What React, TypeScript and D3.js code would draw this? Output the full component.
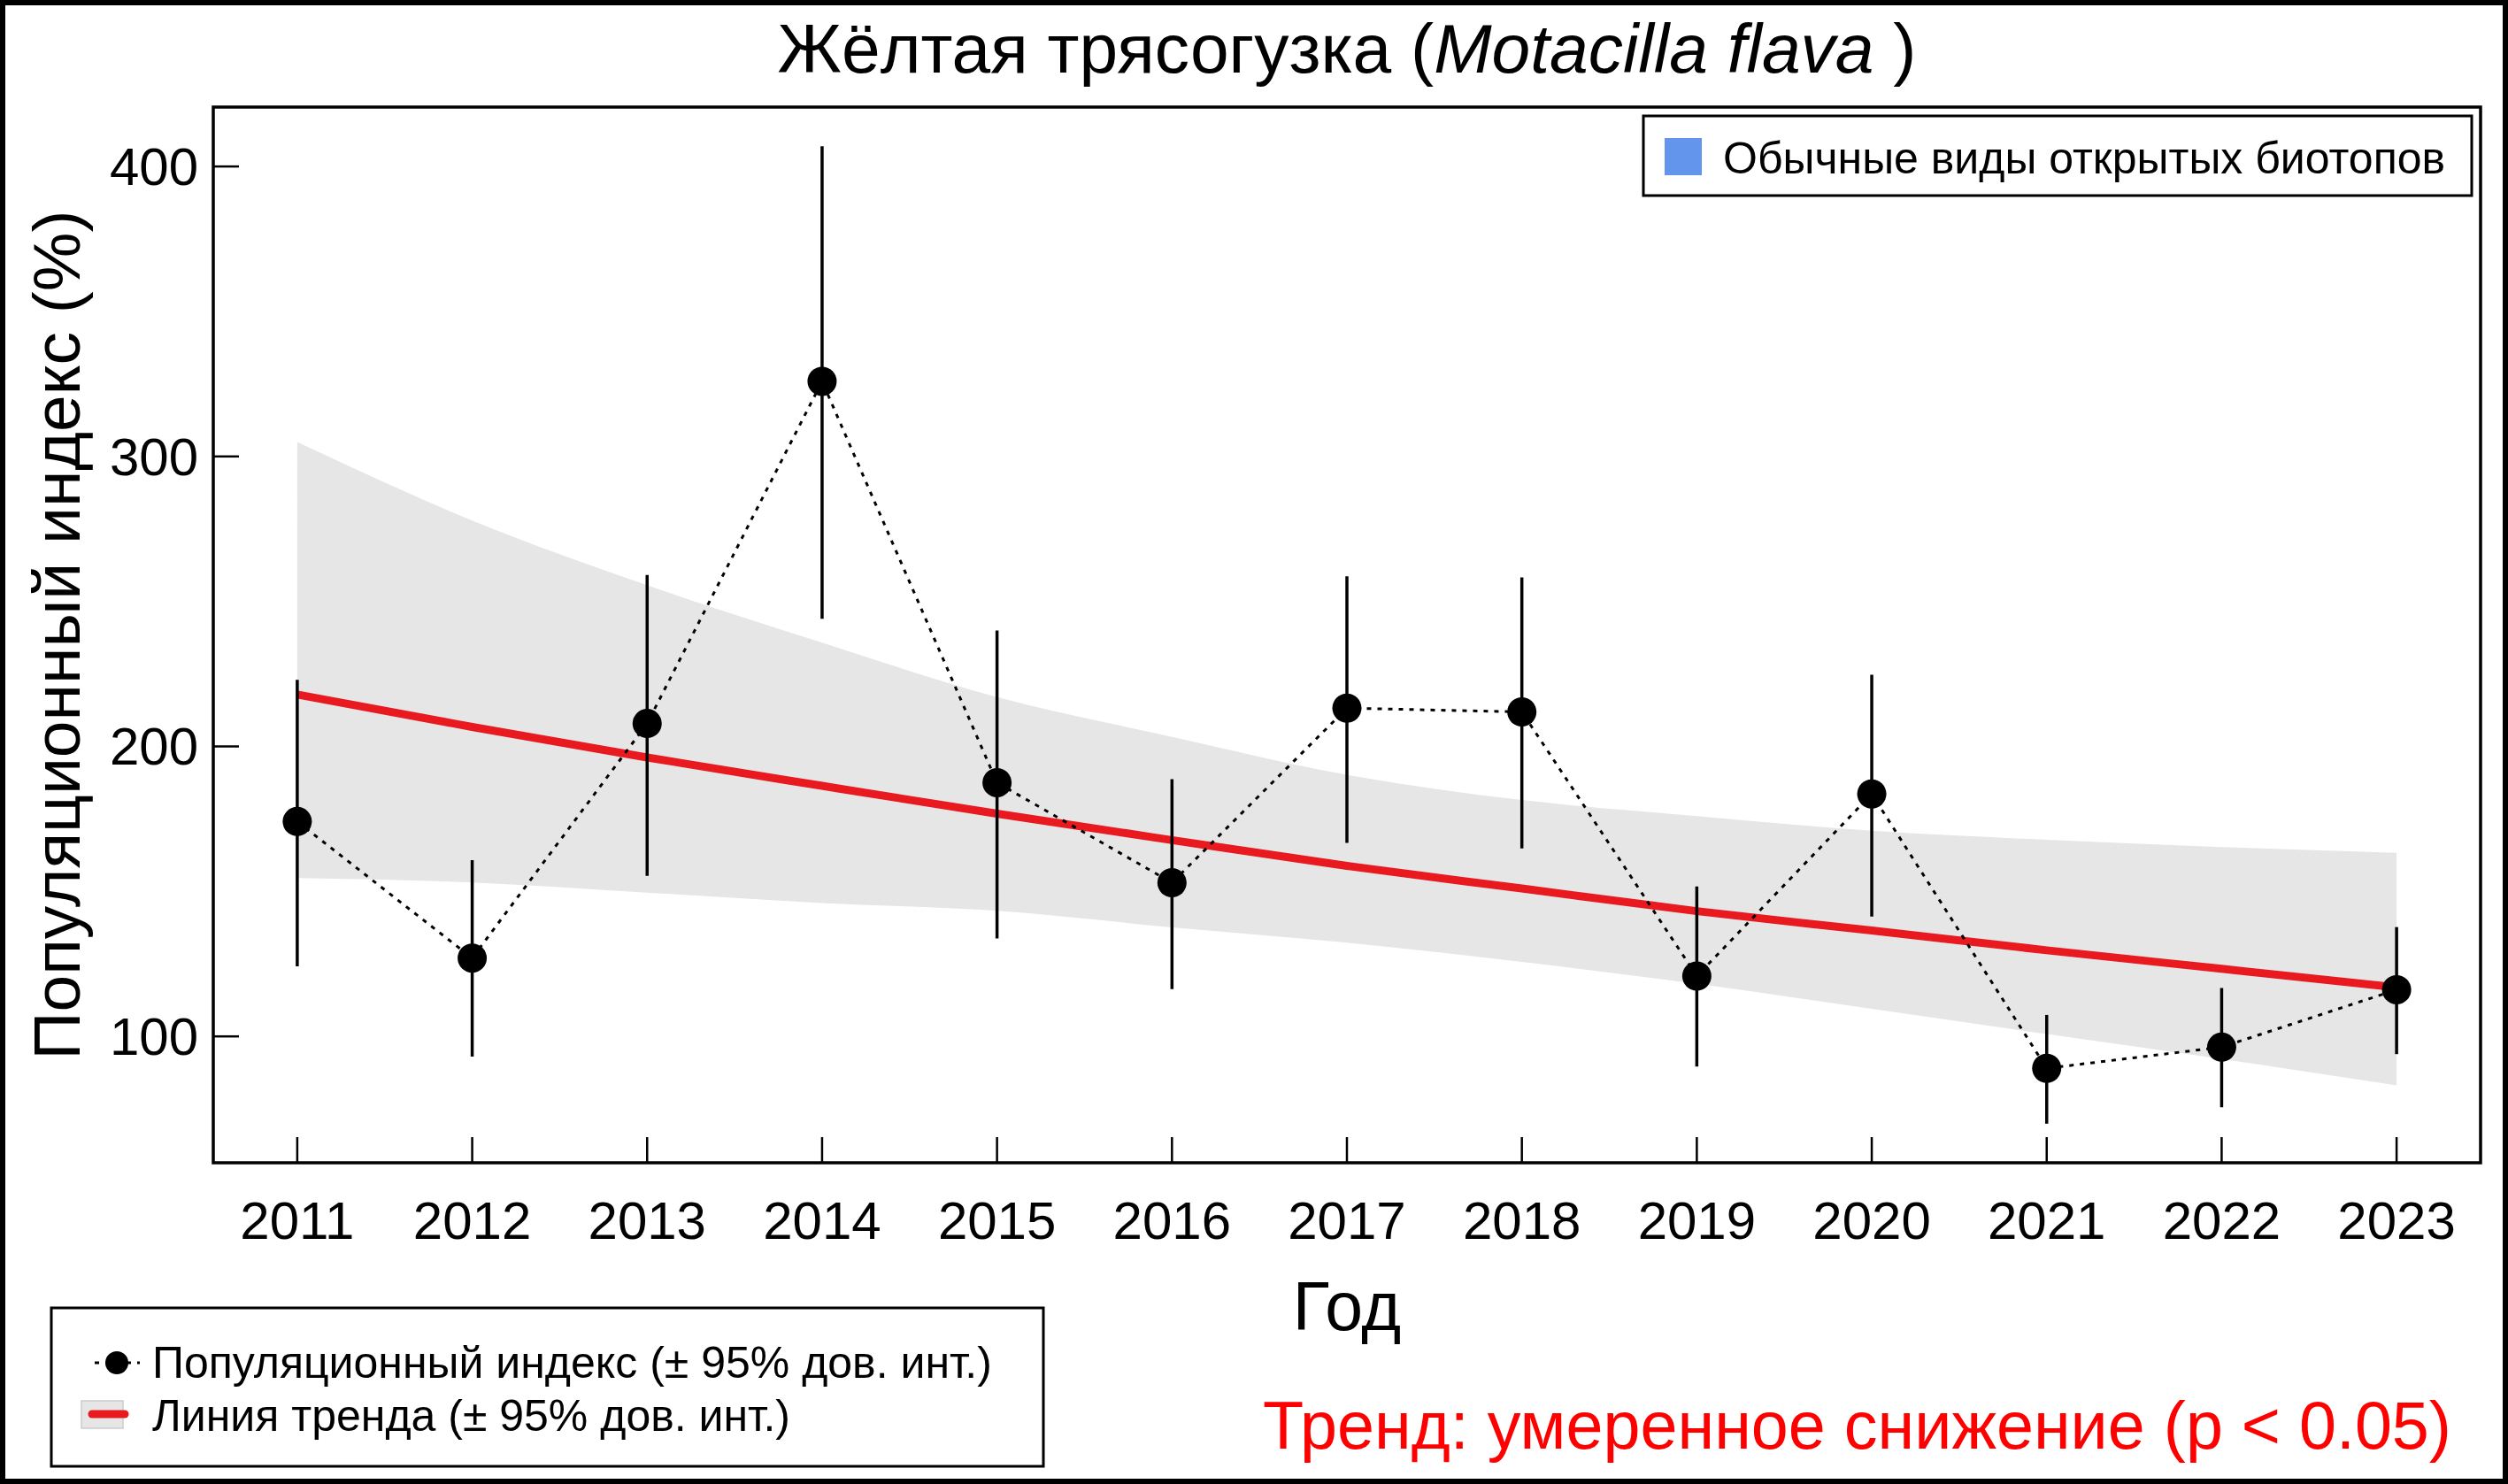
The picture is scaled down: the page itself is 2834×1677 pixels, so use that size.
import React, { useEffect } from "react";
import * as d3 from "d3";

const years = [2011, 2012, 2013, 2014, 2015, 2016, 2017, 2018, 2019, 2020, 2021, 2022, 2023];
const indexValues = [174.1, 127.0, 207.9, 325.9, 187.5, 153.0, 213.2, 211.9, 120.8, 183.6, 89.0, 96.3, 116.1];
const ciUpper = [223.0, 160.8, 259.1, 407.0, 240.0, 188.7, 258.7, 258.3, 151.7, 224.7, 107.4, 116.7, 137.7];
const ciLower = [124.2, 93.0, 155.4, 244.0, 133.8, 116.3, 166.7, 164.8, 89.6, 141.3, 69.9, 75.6, 93.9];
const trendValues = [217.9, 206.7, 196.2, 186.4, 176.8, 167.7, 158.8, 151.0, 143.2, 136.5, 129.7, 123.3, 116.9];
const trendUpper = [305.0, 277.9, 255.6, 235.8, 217.0, 203.3, 190.2, 181.5, 176.0, 170.9, 167.8, 165.3, 163.3];
const trendLower = [154.6, 153.1, 149.6, 146.0, 143.3, 137.6, 132.3, 125.7, 118.1, 109.5, 100.8, 92.2, 83.1];
const yTicks = [100, 200, 300, 400];

const W = 2834;
const H = 1677;
const M = { left: 241, right: 2803, top: 121, bottom: 1314 };
const FONT = "'Liberation Sans', Arial, Helvetica, sans-serif";

export default function App() {
  useEffect(() => {
    document.body.style.margin = "0";
  }, []);

  const xPad = (years[years.length - 1] - years[0]) * 0.04;
  const x = d3
    .scaleLinear()
    .domain([years[0] - xPad, years[years.length - 1] + xPad])
    .range([M.left, M.right]);
  const allY = [...ciUpper, ...ciLower, ...trendUpper, ...trendLower];
  const yMin = d3.min(allY) as number;
  const yMax = d3.max(allY) as number;
  const yPad = (yMax - yMin) * 0.04;
  const y = d3.scaleLinear().domain([yMin - yPad, yMax + yPad]).range([M.bottom, M.top]);

  const band = d3
    .area<number>()
    .x((_, i) => x(years[i]))
    .y0((_, i) => y(trendLower[i]))
    .y1((_, i) => y(trendUpper[i]))
    .curve(d3.curveMonotoneX)(years.map((_, i) => i)) as string;

  const trendLine = d3
    .line<number>()
    .x((_, i) => x(years[i]))
    .y((_, i) => y(trendValues[i]))
    .curve(d3.curveMonotoneX)(years.map((_, i) => i)) as string;

  const idxLine = d3
    .line<number>()
    .x((_, i) => x(years[i]))
    .y((d) => y(d))(indexValues) as string;

  return (
    <svg width={W} height={H} style={{ display: "block", background: "#fff" }} fontFamily={FONT}>
      <rect x={0} y={0} width={W} height={H} fill="#fff" />

      {/* band */}
      <path d={band} fill="#E6E6E6" stroke="none" />
      {/* trend line */}
      <path d={trendLine} fill="none" stroke="#E8191F" strokeWidth={9} />

      {/* error bars */}
      {years.map((yr, i) => (
        <line
          key={"e" + yr}
          x1={x(yr)}
          x2={x(yr)}
          y1={y(ciUpper[i])}
          y2={y(ciLower[i])}
          stroke="#000"
          strokeWidth={3.5}
        />
      ))}
      {/* dotted index line */}
      <path d={idxLine} fill="none" stroke="#000" strokeWidth={3} strokeDasharray="5 7" />
      {years.map((yr, i) => (
        <circle key={"p" + yr} cx={x(yr)} cy={y(indexValues[i])} r={16.5} fill="#000" />
      ))}

      {/* plot frame */}
      <rect
        x={M.left}
        y={M.top}
        width={M.right - M.left}
        height={M.bottom - M.top}
        fill="none"
        stroke="#000"
        strokeWidth={3.5}
      />

      {/* y ticks */}
      {yTicks.map((t) => (
        <g key={"yt" + t}>
          <line x1={M.left} x2={M.left + 29} y1={y(t)} y2={y(t)} stroke="#000" strokeWidth={2.5} />
          <text x={224} y={y(t)} dy="0.35em" textAnchor="end" fontSize={60}>
            {t}
          </text>
        </g>
      ))}
      {/* x ticks */}
      {years.map((yr) => (
        <g key={"xt" + yr}>
          <line x1={x(yr)} x2={x(yr)} y1={M.bottom} y2={M.bottom - 29} stroke="#000" strokeWidth={2.5} />
          <text x={x(yr)} y={1400} textAnchor="middle" fontSize={60}>
            {yr}
          </text>
        </g>
      ))}

      {/* axis titles */}
      <text x={1522} y={1503} textAnchor="middle" fontSize={77}>
        Год
      </text>
      <text
        x={90}
        y={(M.top + M.bottom) / 2}
        textAnchor="middle"
        fontSize={75}
        transform={`rotate(-90, 90, ${(M.top + M.bottom) / 2})`}
      >
        Популяционный индекс (%)
      </text>

      {/* title */}
      <text x={(M.left + M.right) / 2} y={82} textAnchor="middle" fontSize={78.5}>
        <tspan>Жёлтая трясогузка (</tspan>
        <tspan fontStyle="italic">Motacilla flava</tspan>
        <tspan> )</tspan>
      </text>

      {/* top-right legend */}
      <rect x={1857} y={131} width={936} height={90} fill="#fff" stroke="#000" strokeWidth={3} />
      <rect x={1881} y={156} width={42} height={42} fill="#6495ED" />
      <text x={1947} y={196} fontSize={50}>
        Обычные виды открытых биотопов
      </text>

      {/* bottom-left legend */}
      <rect x={58} y={1478} width={1121} height={179} fill="#fff" stroke="#000" strokeWidth={3} />
      <line x1={107} x2={158} y1={1540} y2={1540} stroke="#000" strokeWidth={3} strokeDasharray="5 7" />
      <circle cx={132} cy={1540} r={13} fill="#000" />
      <text x={172} y={1557} fontSize={50}>
        Популяционный индекс (± 95% дов. инт.)
      </text>
      <rect x={92} y={1583} width={47} height={31} fill="#E6E6E6" stroke="#ccc" strokeWidth={1.5} />
      <line x1={104} x2={141} y1={1598} y2={1598} stroke="#E8191F" strokeWidth={9} strokeLinecap="round" />
      <text x={172} y={1617} fontSize={50}>
        Линия тренда (± 95% дов. инт.)
      </text>

      {/* trend text */}
      <text x={2770} y={1637} textAnchor="end" fontSize={75.5} fill="#FF0000">
        Тренд: умеренное снижение (p &lt; 0.05)
      </text>

      {/* outer frame */}
      <rect x={3} y={3} width={W - 6} height={H - 6} fill="none" stroke="#000" strokeWidth={6} />
    </svg>
  );
}
